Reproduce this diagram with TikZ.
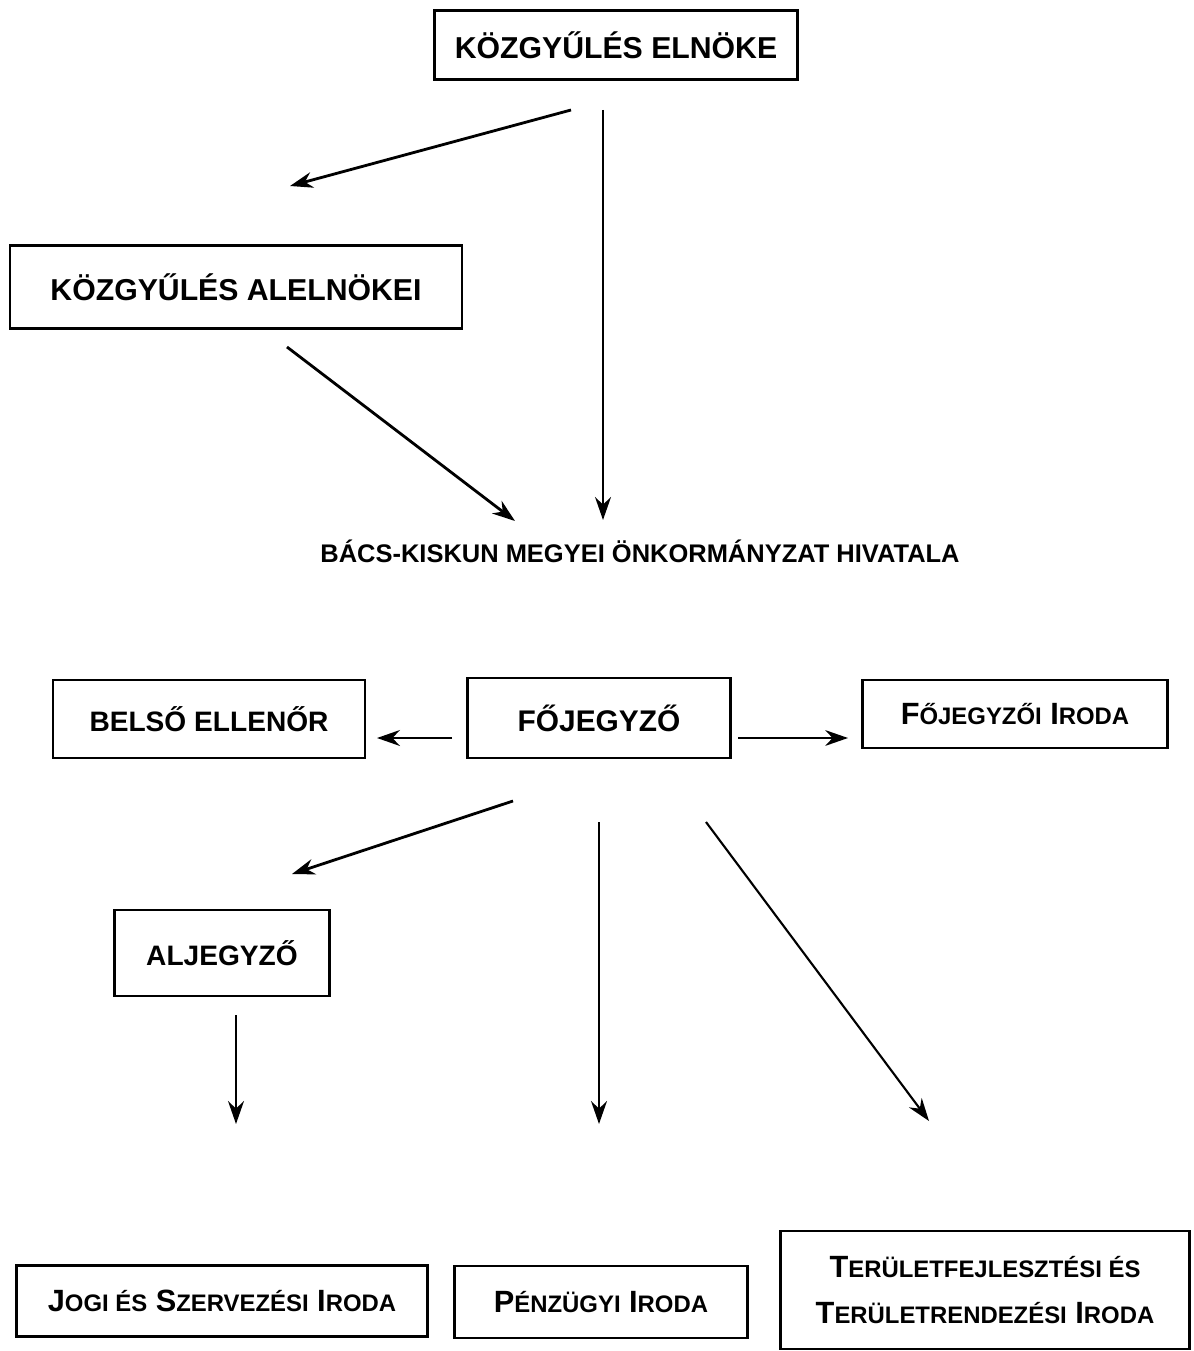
\documentclass[tikz,border=0pt]{standalone}
\usepackage{fontspec}
\setmainfont{Liberation Sans}
\usepackage{tikz}
\usetikzlibrary{arrows.meta}
\newcommand{\kk}[1]{{\fontsize{13.6}{26}\selectfont #1}}
\begin{document}
\begin{tikzpicture}[x=0.02cm, y=-0.02cm,
    doboz/.style={draw, line width=1.6pt, inner sep=0pt, align=center,
      font=\bfseries\fontsize{16}{30}\selectfont},
    nagydoboz/.style={doboz, font=\bfseries\fontsize{17.2}{30}\selectfont},
    iroda/.style={doboz, font=\bfseries\fontsize{17.5}{26}\selectfont},
    nyil/.style={line width=1.6pt, -{Stealth[length=13pt, width=9pt]}}]
			\useasboundingbox (0,0) rectangle (1193,1351);
			% dobozok
			\node[nagydoboz, minimum width=7.26cm, minimum height=1.38cm] (elnoke) at (616,45) {KÖZGYŰLÉS ELNÖKE};
			\node[nagydoboz, minimum width=9.04cm, minimum height=1.66cm] (alelnok) at (236,287) {KÖZGYŰLÉS ALELNÖKEI};
			\node[font=\bfseries\fontsize{14.5}{17}\selectfont] (hivatal) at (640,551) {BÁCS-KISKUN MEGYEI ÖNKORMÁNYZAT HIVATALA};
			\node[doboz, minimum width=6.24cm, minimum height=1.56cm] (belso) at (209,719) {BELSŐ ELLENŐR};
			\node[doboz, font=\bfseries\fontsize{17}{30}\selectfont, minimum width=5.26cm, minimum height=1.60cm] (fojegyzo) at (599,718) {FŐJEGYZŐ};
			\node[iroda, minimum width=6.10cm, minimum height=1.36cm] (fjiroda) at (1015,714) {F\kk{ŐJEGYZŐI} I\kk{RODA}};
			\node[doboz, minimum width=4.30cm, minimum height=1.72cm] (aljegyzo) at (222,953) {ALJEGYZŐ};
			\node[iroda, minimum width=8.22cm, minimum height=1.42cm] (jogi) at (222,1301) {J\kk{OGI ÉS} S\kk{ZERVEZÉSI} I\kk{RODA}};
			\node[iroda, minimum width=5.86cm, minimum height=1.44cm] (penzugy) at (601,1302) {P\kk{ÉNZÜGYI} I\kk{RODA}};
			\node[iroda, minimum width=8.18cm, minimum height=2.36cm] (terulet) at (985,1290) {T\kk{ERÜLETFEJLESZTÉSI ÉS}\\T\kk{ERÜLETRENDEZÉSI} I\kk{RODA}};
			% nyilak vegpontjai
			\coordinate (e1) at (571,110);  \coordinate (e1v) at (290,186);
			\coordinate (e2) at (603,110);  \coordinate (e2v) at (603,520);
			\coordinate (a1) at (287,347);  \coordinate (a1v) at (515,521);
			\coordinate (f1) at (452,738);  \coordinate (f1v) at (377,738);
			\coordinate (f2) at (738,738);  \coordinate (f2v) at (848,738);
			\coordinate (f3) at (513,801);  \coordinate (f3v) at (292,874);
			\coordinate (f4) at (599,822);  \coordinate (f4v) at (599,1124);
			\coordinate (f5) at (706,822);  \coordinate (f5v) at (929,1121);
			\coordinate (l1) at (236,1015); \coordinate (l1v) at (236,1124);
			% nyilak
			\draw[nyil] (e1) -- (e1v);
			\draw[nyil] (e2) -- (e2v);
			\draw[nyil] (a1) -- (a1v);
			\draw[nyil] (f1) -- (f1v);
			\draw[nyil, line width=1pt] (f2) -- (f2v);
			\draw[nyil] (f3) -- (f3v);
			\draw[nyil] (f4) -- (f4v);
			\draw[nyil, line width=1.2pt] (f5) -- (f5v);
			\draw[nyil] (l1) -- (l1v);
		\end{tikzpicture}
\end{document}
